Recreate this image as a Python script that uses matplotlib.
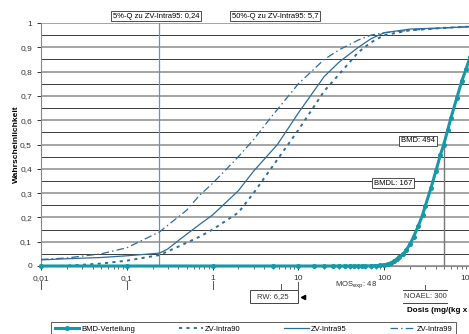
import matplotlib
matplotlib.use("Agg")
import matplotlib.pyplot as plt
import matplotlib.ticker as mtick
from matplotlib.patches import Rectangle
from matplotlib.transforms import blended_transform_factory

plt.rcParams["font.family"] = ["Liberation Sans", "DejaVu Sans"]

W, H = 469, 334

# ZV curves (dose in mg/(kg x d), cumulative probability)
zv_dose = [0.01, 0.02, 0.05, 0.1, 0.24, 0.3, 0.4, 0.7, 1, 2, 3, 5.7, 10, 20, 30, 50, 70, 100, 200, 500, 1000]
zv95 = [0.025, 0.03, 0.035, 0.042, 0.053, 0.07, 0.105, 0.17, 0.21, 0.31, 0.39, 0.5, 0.63, 0.78, 0.84, 0.90, 0.935, 0.96, 0.975, 0.98, 0.985]
zv99_dose = [0.01, 0.02, 0.05, 0.1, 0.24, 0.5, 0.7, 1, 2, 3, 5, 10, 20, 30, 50, 70, 100, 200, 500, 1000]
zv99 = [0.027, 0.033, 0.05, 0.075, 0.14, 0.23, 0.29, 0.34, 0.45, 0.52, 0.62, 0.75, 0.85, 0.89, 0.93, 0.95, 0.96, 0.97, 0.98, 0.985]
zv90_dose = [0.017, 0.03, 0.05, 0.1, 0.24, 0.4, 0.7, 1, 2, 3, 5, 10, 20, 30, 50, 70, 100, 200, 500, 1000]
zv90 = [0.0, 0.005, 0.01, 0.022, 0.045, 0.08, 0.12, 0.15, 0.22, 0.30, 0.41, 0.56, 0.72, 0.79, 0.88, 0.92, 0.95, 0.97, 0.98, 0.985]

# BMD distribution
bmd_dose = [0.01, 0.1, 1, 5, 10, 15, 20, 25, 30, 35, 40, 45, 50, 55, 60, 70, 80, 90, 100, 110, 120,
            130, 140, 150, 167, 180, 200, 220, 250, 280, 300, 350, 400, 450, 494, 550, 600, 700, 800, 900, 1000]
bmd_p = [0, 0, 0, 0, 0, 0, 0, 0, 0, 0, 0, 0, 0, 0, 0, 0.001, 0.002, 0.003, 0.005, 0.008, 0.013,
         0.02, 0.028, 0.037, 0.05, 0.065, 0.09, 0.12, 0.165, 0.21, 0.245, 0.32, 0.39, 0.455, 0.5, 0.56, 0.61, 0.69, 0.76, 0.81, 0.86]

q05, q50 = 0.24, 5.7
bmd, bmdl = 494, 167
rw, noael, mos = 6.25, 300, 48

BLUE = "#2d6c9c"
TEAL = "#1798a6"
GRID_DARK = "#3a3a3a"
GRID_LIGHT = "#8c8c8c"


def fx(px):
    return px / W


def fy(py):
    return 1 - py / H


fig = plt.figure(figsize=(W / 100, H / 100), dpi=100)
ax = fig.add_axes([fx(41), fy(266), 429 / W, 243 / H])
ax.set_xscale("log")
ax.set_xlim(0.01, 1000)
ax.set_ylim(0, 1)

ax.set_yticks([i / 10 for i in range(11)])
ax.set_yticks([i / 20 for i in range(1, 20, 2)], minor=True)
ax.yaxis.set_major_formatter(mtick.FuncFormatter(lambda v, _: f"{v:g}".replace(".", ",")))
ax.set_xticks([0.01, 0.1, 1, 10, 100, 1000])
ax.xaxis.set_major_formatter(mtick.FuncFormatter(lambda v, _: f"{v:g}".replace(".", ",")))
ax.xaxis.set_minor_locator(mtick.LogLocator(base=10, subs=range(2, 10), numticks=20))
ax.xaxis.set_minor_formatter(mtick.NullFormatter())

ax.grid(axis="y", which="major", color=GRID_LIGHT, lw=1.1)
ax.grid(axis="y", which="minor", color=GRID_DARK, lw=0.7)
ax.tick_params(axis="y", which="minor", length=0)
ax.tick_params(axis="both", which="major", labelsize=6, colors="#333333", length=3, width=0.7)
ax.tick_params(axis="x", which="minor", length=2, width=0.6, colors="#555555")
for s in ["top", "right"]:
    ax.spines[s].set_visible(False)
for s in ["left", "bottom"]:
    ax.spines[s].set_color("#888888")
    ax.spines[s].set_linewidth(0.8)

ax.axvline(q05, color="#5b9bc0", lw=0.9, zorder=2)
ax.plot([bmd, bmd], [0, 0.52], color="#777777", lw=1.0, zorder=2)

ax.plot(zv90_dose, zv90, color=BLUE, lw=1.4, ls=(0, (1.6, 2.2)), label="ZV-Intra90", zorder=3)
ax.plot(zv_dose, zv95, color=BLUE, lw=0.9, ls="-", label="ZV-Intra95", zorder=3)
ax.plot(zv99_dose, zv99, color=BLUE, lw=0.9, ls=(0, (6, 2.5, 1.2, 2.5)), label="ZV-Intra99", zorder=3)
ax.plot(bmd_dose, bmd_p, color=TEAL, lw=2.2, marker="o", ms=2.6, mec=TEAL, mfc=TEAL,
        label="BMD-Verteilung", zorder=4, clip_on=False)

box = dict(boxstyle="square,pad=0.25", fc="white", ec="#333333", lw=0.6)
fig.text(fx(156), fy(16), "5%-Q zu ZV-Intra95: 0,24", fontsize=5.5, ha="center", va="center", bbox=box)
fig.text(fx(275), fy(16), "50%-Q zu ZV-Intra95: 5,7", fontsize=5.5, ha="center", va="center", bbox=box)
fig.text(fx(418), fy(141), f"BMD: {bmd}", fontsize=5.5, ha="center", va="center", bbox=box)
fig.text(fx(393), fy(183), f"BMDL: {bmdl}", fontsize=5.5, ha="center", va="center", bbox=box)

# annotations below the axis
tr = blended_transform_factory(ax.transData, ax.transAxes)


def ay(py):
    return (266 - py) / 243


for xv in [0.01, 0.1, 1]:
    ax.plot([xv, xv], [ay(281), ay(289)], color="#555555", lw=0.7, transform=tr, clip_on=False)
ax.plot([10, 10], [ay(282), ay(290)], color="#555555", lw=0.7, transform=tr, clip_on=False)
ax.plot([rw, rw], [ay(284), ay(290)], color="#555555", lw=0.7, transform=tr, clip_on=False)
ax.add_patch(Rectangle((2.73, ay(303)), 10 - 2.73, ay(290) - ay(303), transform=tr,
                       fill=False, ec="#444444", lw=0.7, clip_on=False))
ax.text(5.0, ay(297), "RW: 6,25", transform=tr, fontsize=5.5, ha="center", va="center", color="#333333")
ax.plot([11.2], [ay(297)], marker="<", ms=3, color="black", transform=tr, clip_on=False)
ax.text(27, ay(285), r"MOS$_{\mathrm{exp}}$: " + str(mos), transform=tr, fontsize=5.5,
        ha="left", va="center", color="#333333")
ax.plot([noael, noael], [ay(285), ay(290)], color="#555555", lw=0.7, transform=tr, clip_on=False)
ax.plot([165, 540], [ay(290), ay(290)], color="#444444", lw=0.7, transform=tr, clip_on=False)
ax.plot([165, 540], [ay(303), ay(303)], color="#444444", lw=0.7, transform=tr, clip_on=False)
ax.text(noael, ay(296.5), f"NOAEL: {noael}", transform=tr, fontsize=5.5, ha="center", va="center", color="#333333")

fig.text(fx(407), fy(310), "Dosis (mg/(kg x d))", fontsize=5.8, fontweight="bold", ha="left", va="center")
fig.text(fx(16), fy(144), "Wahrscheinlichkeit", fontsize=6, fontweight="bold", rotation=90,
         ha="center", va="center")

handles, labels = ax.get_legend_handles_labels()
order = [3, 0, 1, 2]
leg = fig.legend([handles[i] for i in order], [labels[i] for i in order], loc="upper left",
                 bbox_to_anchor=(fx(47), 0, 413 / W, fy(318)), mode="expand", ncol=4,
                 fontsize=5.5, frameon=True, fancybox=False, edgecolor="#333333",
                 handlelength=3.2, borderpad=0.5, handletextpad=0.3, columnspacing=1.0)
leg.get_frame().set_linewidth(0.7)

fig.savefig("out.png", dpi=100)
